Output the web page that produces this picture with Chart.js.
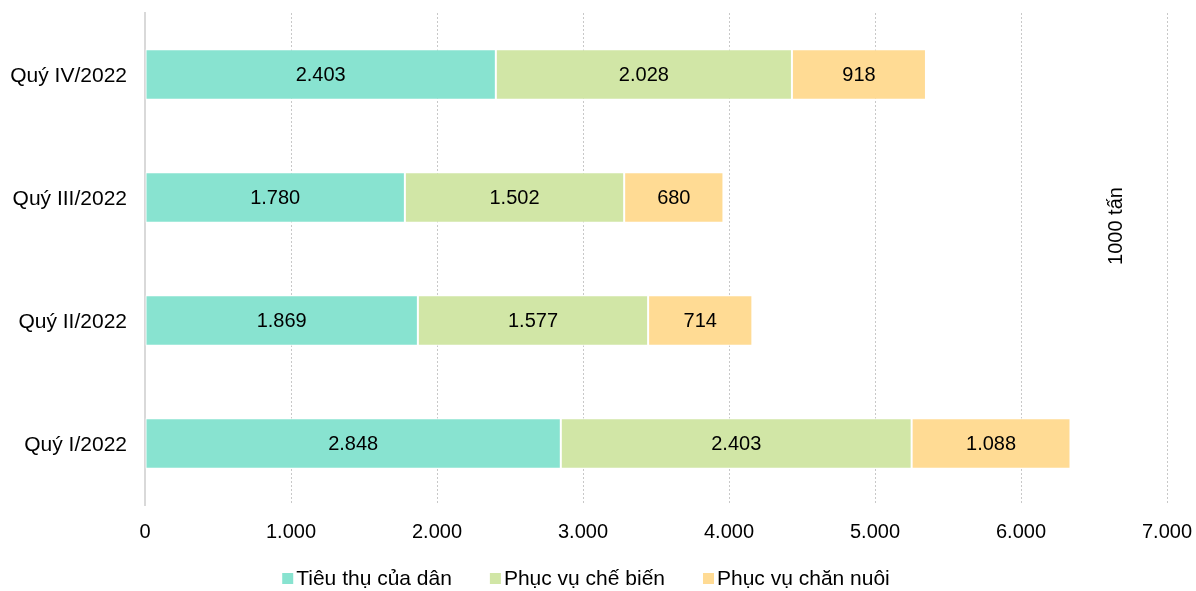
<!DOCTYPE html>
<html>
<head>
<meta charset="utf-8">
<script src="https://cdn.jsdelivr.net/npm/chart.js@4"></script>
<style>
  html, body { margin: 0; padding: 0; background: #fff; }
  #wrap { width: 1196px; height: 591px; }
</style>
</head>
<body>
<div id="wrap"><canvas id="quyChart" width="1196" height="591"></canvas></div>
<script>
const quarters = ['Quý IV/2022', 'Quý III/2022', 'Quý II/2022', 'Quý I/2022'];
const tieuThu = [2403, 1780, 1869, 2848];
const cheBien = [2028, 1502, 1577, 2403];
const chanNuoi = [918, 680, 714, 1088];
const seriesNames = ['Tiêu thụ của dân', 'Phục vụ chế biến', 'Phục vụ chăn nuôi'];
const seriesColors = ['#88e3d0', '#d1e6a6', '#ffdb94'];
const xTicks = [0, 1000, 2000, 3000, 4000, 5000, 6000, 7000];
const unitLabel = '1000 tấn';

const FONT = '"Liberation Sans", Arial, sans-serif';
const fmt = v => String(v).replace(/\B(?=(\d{3})+(?!\d))/g, '.');

const barLabels = {
    id: 'barLabels',
    afterDatasetsDraw(chart) {
        const ctx = chart.ctx;
        ctx.save();
        ctx.font = '20px ' + FONT;
        ctx.fillStyle = '#000';
        ctx.textAlign = 'center';
        ctx.textBaseline = 'middle';
        chart.data.datasets.forEach((ds, i) => {
            chart.getDatasetMeta(i).data.forEach((bar, j) => {
                const p = bar.getProps(['x', 'y', 'base'], true);
                ctx.fillText(fmt(ds.data[j]), (p.x + p.base) / 2, p.y + 1);
            });
        });
        // unit label on the right
        ctx.save();
        ctx.translate(1116, 226);
        ctx.rotate(-Math.PI / 2);
        ctx.fillText(unitLabel, 0, 0);
        ctx.restore();

        // legend: small square, tight gap, text
        ctx.font = '21px ' + FONT;
        ctx.textAlign = 'left';
        const box = 11, gap = 3, space = 38;
        const widths = chart.data.datasets.map(ds => ctx.measureText(ds.label).width);
        const total = widths.reduce((a, w) => a + box + gap + w, 0) + space * (widths.length - 1);
        let x = 586 - total / 2;
        const y = 579;
        chart.data.datasets.forEach((ds, i) => {
            ctx.fillStyle = ds.backgroundColor;
            ctx.fillRect(x, y - 6, box, box);
            ctx.fillStyle = '#000';
            ctx.fillText(ds.label, x + box + gap, y);
            x += box + gap + widths[i] + space;
        });
        ctx.restore();
    }
};

const ctx = document.getElementById('quyChart').getContext('2d');
new Chart(ctx, {
    type: 'bar',
    data: {
        labels: quarters,
        datasets: seriesNames.map((name, i) => ({
            label: name,
            data: [tieuThu, cheBien, chanNuoi][i],
            backgroundColor: seriesColors[i]
        }))
    },
    options: {
        indexAxis: 'y',
        responsive: false,
        animation: false,
        layout: { padding: { left: 0, right: 29, top: 13, bottom: 41 } },
        datasets: {
            bar: {
                borderColor: '#ffffff',
                borderWidth: 1,
                borderSkipped: false,
                categoryPercentage: 1,
                barPercentage: 0.41
            }
        },
        plugins: {
            legend: { display: false },
            tooltip: { enabled: false }
        },
        scales: {
            x: {
                stacked: true,
                min: 0,
                max: 7000,
                afterBuildTicks: s => { s.ticks = xTicks.map(v => ({ value: v })); },
                afterFit: s => { s.height = 45; s.paddingLeft = 0; s.paddingRight = 0; },
                grid: { color: '#c8c8c8', lineWidth: 1, drawTicks: false },
                border: { display: false, dash: [2, 2] },
                ticks: {
                    padding: 15,
                    color: '#000',
                    font: { family: FONT, size: 20 },
                    callback: v => fmt(v)
                }
            },
            y: {
                stacked: true,
                afterFit: s => { s.width = 145; s.paddingTop = 0; s.paddingBottom = 0; },
                grid: { display: false, drawTicks: false },
                border: { display: true, color: '#d9d9d9', width: 2 },
                ticks: {
                    padding: 18,
                    labelOffset: 2,
                    color: '#000',
                    font: { family: FONT, size: 21 }
                }
            }
        }
    },
    plugins: [barLabels]
});
</script>
</body>
</html>
